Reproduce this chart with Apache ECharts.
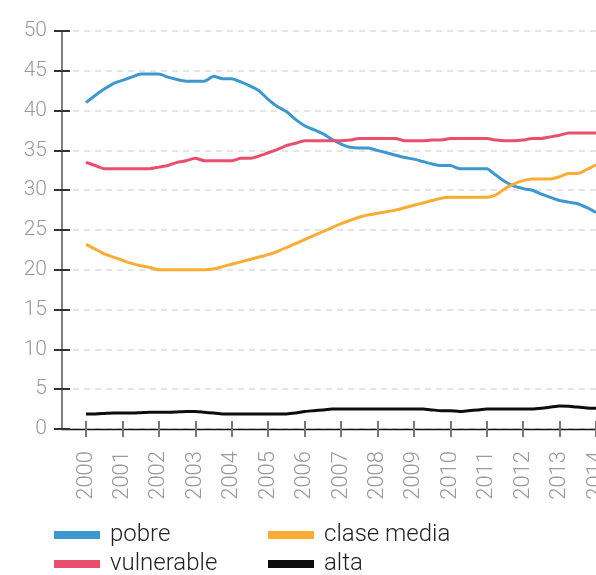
<!DOCTYPE html>
<html>
<head>
<meta charset="utf-8">
<script src="https://cdn.jsdelivr.net/npm/echarts@6/dist/echarts.min.js"></script>
<style>
html,body{margin:0;padding:0;background:#fff;}
#chart{width:596px;height:575px;}
</style>
</head>
<body>
<div id="chart"></div>
<script>
// quarterly time points
const quarters = [
  2000, 2000.25, 2000.5, 2000.75, 2001, 2001.25, 2001.5, 2001.75,
  2002, 2002.25, 2002.5, 2002.75, 2003, 2003.25, 2003.5, 2003.75,
  2004, 2004.25, 2004.5, 2004.75, 2005, 2005.25, 2005.5, 2005.75,
  2006, 2006.25, 2006.5, 2006.75, 2007, 2007.25, 2007.5, 2007.75,
  2008, 2008.25, 2008.5, 2008.75, 2009, 2009.25, 2009.5, 2009.75,
  2010, 2010.25, 2010.5, 2010.75, 2011, 2011.25, 2011.5, 2011.75,
  2012, 2012.25, 2012.5, 2012.75, 2013, 2013.25, 2013.5, 2013.75,
  2014
];
const yearTicks = [2000, 2001, 2002, 2003, 2004, 2005, 2006, 2007, 2008, 2009, 2010, 2011, 2012, 2013, 2014];

const pobre = [
  41.0, 41.9, 42.7, 43.4, 43.8, 44.2, 44.6, 44.6,
  44.6, 44.2, 43.9, 43.7, 43.7, 43.7, 44.3, 44.0,
  44.0, 43.6, 43.1, 42.5, 41.4, 40.5, 39.9, 38.9,
  38.1, 37.6, 37.1, 36.4, 35.8, 35.4, 35.3, 35.3,
  35.0, 34.7, 34.4, 34.1, 33.9, 33.6, 33.3, 33.1,
  33.1, 32.7, 32.7, 32.7, 32.7, 31.9, 31.1, 30.5,
  30.2, 30.0, 29.5, 29.1, 28.7, 28.5, 28.3, 27.8,
  27.2
];
const vulnerable = [
  33.5, 33.1, 32.7, 32.7, 32.7, 32.7, 32.7, 32.7,
  32.9, 33.1, 33.5, 33.7, 34.0, 33.7, 33.7, 33.7,
  33.7, 34.0, 34.0, 34.3, 34.7, 35.1, 35.6, 35.9,
  36.2, 36.2, 36.2, 36.2, 36.2, 36.3, 36.5, 36.5,
  36.5, 36.5, 36.5, 36.2, 36.2, 36.2, 36.3, 36.3,
  36.5, 36.5, 36.5, 36.5, 36.5, 36.3, 36.2, 36.2,
  36.3, 36.5, 36.5, 36.7, 36.9, 37.2, 37.2, 37.2,
  37.2
];
const claseMedia = [
  23.2, 22.6, 22.0, 21.6, 21.2, 20.8, 20.5, 20.3,
  20.0, 20.0, 20.0, 20.0, 20.0, 20.0, 20.1, 20.4,
  20.7, 21.0, 21.3, 21.6, 21.9, 22.3, 22.8, 23.3,
  23.8, 24.3, 24.8, 25.3, 25.8, 26.2, 26.6, 26.9,
  27.1, 27.3, 27.5, 27.8, 28.1, 28.4, 28.7, 29.0,
  29.1, 29.1, 29.1, 29.1, 29.1, 29.4, 30.2, 30.8,
  31.2, 31.4, 31.4, 31.4, 31.7, 32.1, 32.1, 32.6,
  33.2
];
const alta = [
  1.9, 1.9, 1.95, 2.0, 2.0, 2.0, 2.05, 2.1,
  2.1, 2.1, 2.15, 2.2, 2.2, 2.1, 2.0, 1.9,
  1.9, 1.9, 1.9, 1.9, 1.9, 1.9, 1.9, 2.0,
  2.2, 2.3, 2.4, 2.5, 2.5, 2.5, 2.5, 2.5,
  2.5, 2.5, 2.5, 2.5, 2.5, 2.5, 2.4, 2.3,
  2.3, 2.2, 2.3, 2.4, 2.5, 2.5, 2.5, 2.5,
  2.5, 2.5, 2.6, 2.75, 2.9, 2.85, 2.75, 2.65,
  2.6
];
const seriesNames = ['pobre', 'vulnerable', 'clase media', 'alta'];
const seriesColors = ['#3d98cf', '#e94e6d', '#fbac35', '#0d0d0d'];
const seriesValues = [pobre, vulnerable, claseMedia, alta];

const X_MIN = 1999.341, X_MAX = 2014;
const FONT = 'Roboto';

const legendText = {fontFamily: FONT, fontWeight: 300, fontSize: 24, lineHeight: 24, color: '#222', padding: [0, 0, 0, 5]};

const chart = echarts.init(document.getElementById('chart'), null, {renderer: 'canvas'});
const option = {
  animation: false,
  backgroundColor: '#fff',
  grid: {left: 62, right: 0, top: 31, bottom: 146, containLabel: false, outerBoundsMode: 'none'},
  legend: [
    {
      data: ['pobre', 'vulnerable'], orient: 'vertical', left: 54, top: 523, width: 200, height: 80,
      icon: 'rect', itemWidth: 46, itemHeight: 8, itemGap: 5,
      textStyle: legendText, selectedMode: false, padding: 0
    },
    {
      data: ['clase media', 'alta'], orient: 'vertical', left: 268, top: 523, width: 250, height: 80,
      icon: 'rect', itemWidth: 46, itemHeight: 8, itemGap: 5,
      textStyle: legendText, selectedMode: false, padding: 0
    }
  ],
  xAxis: [
    {
      type: 'value', min: X_MIN, max: X_MAX, position: 'bottom',
      axisLine: {show: true, lineStyle: {color: '#111', width: 1.3}},
      axisTick: {show: true, customValues: yearTicks, length: 8, inside: false, lineStyle: {color: '#777', width: 2}},
      axisLabel: {customValues: yearTicks, rotate: 90, margin: 22, fontFamily: FONT, fontWeight: 300, fontSize: 22, color: '#999', formatter: v => String(v)},
      splitLine: {show: false}
    },
    {
      type: 'value', min: X_MIN, max: X_MAX, position: 'bottom', offset: 0,
      axisLine: {show: false},
      axisTick: {show: true, customValues: yearTicks, length: 8, inside: true, lineStyle: {color: '#777', width: 2}},
      axisLabel: {show: false},
      splitLine: {show: false}
    }
  ],
  yAxis: [
    {
      type: 'value', min: 0, max: 50, interval: 5, position: 'left',
      axisLine: {show: true, lineStyle: {color: '#555', width: 1.5}},
      axisTick: {show: true, length: 8, inside: false, lineStyle: {color: '#333', width: 2}},
      axisLabel: {margin: 15, fontFamily: FONT, fontWeight: 300, fontSize: 21, color: '#999'},
      splitLine: {show: true, lineStyle: {color: '#ddd', width: 1.5, type: [6, 5]}}
    },
    {
      type: 'value', min: 0, max: 50, interval: 5, position: 'left', offset: 0,
      axisLine: {show: false},
      axisTick: {show: true, length: 8, inside: true, lineStyle: {color: '#333', width: 2}},
      axisLabel: {show: false},
      splitLine: {show: false}
    }
  ],
  series: seriesNames.map((name, i) => ({
    name: name,
    type: 'line',
    xAxisIndex: 0,
    yAxisIndex: 0,
    data: quarters.map((q, j) => [q, seriesValues[i][j]]),
    showSymbol: false,
    symbol: 'none',
    smooth: 0.2,
    lineStyle: {width: 3, color: seriesColors[i]},
    itemStyle: {color: seriesColors[i]},
    z: 3
  }))
};
chart.setOption(option);
</script>
</body>
</html>
